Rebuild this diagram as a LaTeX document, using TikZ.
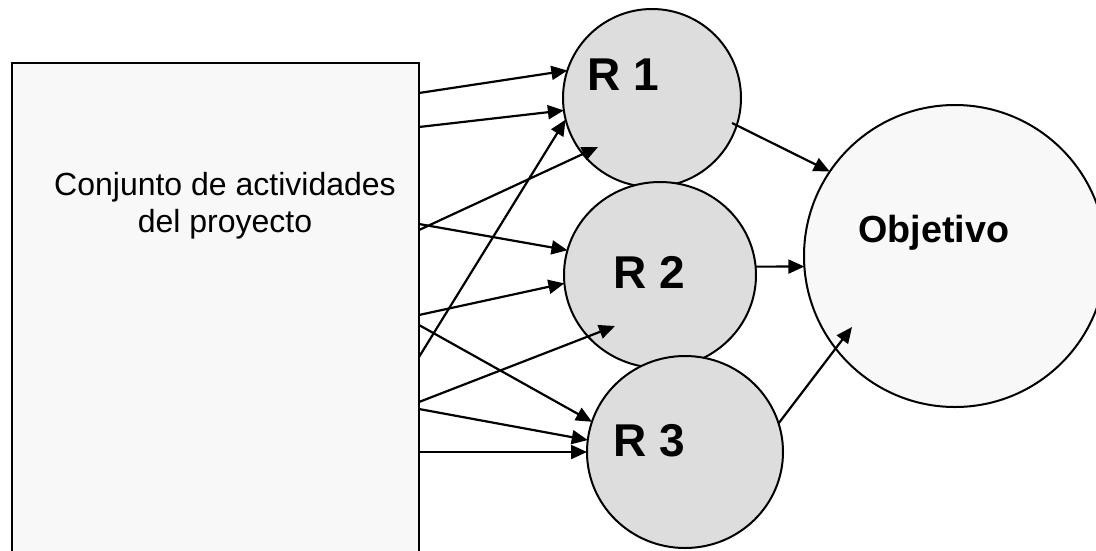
\documentclass[tikz,border=0pt]{standalone}
\usepackage{fontspec}
\setmainfont{Liberation Sans}
\usetikzlibrary{arrows.meta,shapes.geometric,calc}
\definecolor{boxfill}{HTML}{F8F8F8}
\definecolor{resfill}{HTML}{DDDDDD}
\begin{document}
\begin{tikzpicture}[x=1pt,y=-1pt,
  box/.style={draw,line width=2.2pt,fill=boxfill,inner sep=0pt,outer sep=0pt,
    minimum width=407pt,minimum height=517pt},
  res/.style={ellipse,draw,line width=2pt,fill=resfill,inner sep=0pt,outer sep=0pt},
  goal/.style={circle,draw,line width=2pt,fill=boxfill,inner sep=0pt,outer sep=0pt,
    minimum size=302pt},
  link/.style={line width=2.2pt,-{Triangle[length=16pt,width=14pt]}},
  plain/.style={font=\fontsize{32}{37}\selectfont,align=center,inner sep=0pt},
  rlabel/.style={font=\fontsize{46}{52}\selectfont\bfseries,inner sep=0pt,anchor=base},
  glabel/.style={font=\fontsize{37.7}{43}\selectfont\bfseries,inner sep=0pt,anchor=base}]
\useasboundingbox (0,0) rectangle (1096,550);
\clip (0,0) rectangle (1096,550);

% activities block
\node[box] (act) at (215.5,321.5) {};
\node[plain,anchor=base] (tact) at (225,232) {Conjunto de actividades\\del proyecto};

% results
\node[res,minimum width=178pt,minimum height=178pt] (r1) at (652,98) {};
\node[res,minimum width=192pt,minimum height=186pt] (r2) at (660,275) {};
\node[res,minimum width=196pt,minimum height=192pt] (r3) at (685,452) {};
\node[rlabel] (t1) at (623,90) {R 1};
\node[rlabel] (t2) at (649,288) {R 2};
\node[rlabel] (t3) at (649,456) {R 3};

% objective
\node[goal] (obj) at (955,256) {};
\node[glabel] (tobj) at (934,242) {Objetivo};

% tails on the right side of the block
\coordinate (s1) at ($(act.north east)+(0,30)$);
\coordinate (s2) at ($(act.north east)+(0,64)$);
\coordinate (s3) at ($(act.north east)+(0,294)$);
\coordinate (s4) at ($(act.north east)+(0,167)$);
\coordinate (s5) at ($(act.north east)+(0,161)$);
\coordinate (s6) at ($(act.north east)+(0,252)$);
\coordinate (s7) at ($(act.north east)+(0,339)$);
\coordinate (s8) at ($(act.north east)+(0,262)$);
\coordinate (s9) at ($(act.north east)+(0,346)$);
\coordinate (s10) at ($(act.north east)+(0,389)$);

% heads and tails inside the circles
\coordinate (h4) at ($(r1.center)+(-54,49)$);
\coordinate (h7) at ($(r2.center)+(-45,51)$);
\coordinate (o1) at ($(r1.center)+(80,25)$);
\coordinate (g3) at ($(obj.center)+(-103,71)$);

% activities to results
\draw[link] (s1) -- (r1.162);
\draw[link] (s2) -- (r1.188);
\draw[link] (s3) -- (r1.194);
\draw[link] (s4) -- (h4);
\draw[link] (s5) -- (r2.165);
\draw[link] (s6) -- (r2.185);
\draw[link] (s7) -- (h7);
\draw[link] (s8) -- (r3.162);
\draw[link] (s9) -- (r3.173);
\draw[link] (s10) -- (r3.west);

% results to objective
\draw[link] (o1) -- (obj.146);
\draw[link] (r2.5) -- (obj.184);
\draw[link] (r3.17) -- (g3);
\end{tikzpicture}
\end{document}
